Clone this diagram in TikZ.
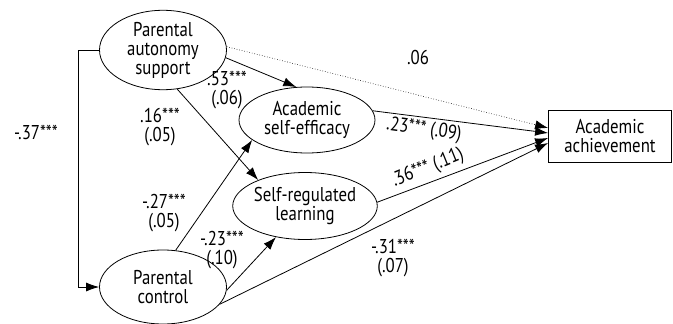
\documentclass[tikz,border=0pt]{standalone}
\usepackage{fontspec}
\setmainfont{PT Sans}[FakeStretch = 0.84]
\usetikzlibrary{shapes.geometric, arrows.meta}
\tikzset {
    latent/.style = {ellipse, draw, align = center, inner sep = 0pt, line width = 0.8pt},
    observed/.style = {rectangle, draw, align = center, inner sep = 2pt, line width = 0.8pt},
    path arrow/.style = {line width = 0.8pt, -{Latex[length = 13pt, width = 9pt]}},
    weak path/.style = {line width = 0.6pt, dotted, -{Latex[length = 13pt, width = 9pt]}},
    coef/.style = {align = center, inner sep = 0pt}
}
\newcommand{\stars}{***}

\begin{document}
\begin{tikzpicture}[x = 1pt, y = -1pt, font = \fontsize{20pt}{19pt}\selectfont]
    \useasboundingbox (0, 0) rectangle (673, 324);
    % variables
    \node (pas) [latent, minimum width = 127pt, minimum height = 78pt] at (163, 50) {Parental\\autonomy\\support};
    \node (ase) [latent, minimum width = 136pt, minimum height = 66pt] at (307, 120) {Academic\\self-efficacy};
    \node (srl) [latent, minimum width = 140pt, minimum height = 67pt] at (305, 206) {Self-regulated\\learning};
    \node (pc) [latent, minimum width = 127pt, minimum height = 74pt] at (163, 287) {Parental\\control};
    \node (aa) [observed, minimum width = 123pt, minimum height = 52pt] at (610, 136) {Academic\\achievement};
    % paths
    \draw [path arrow] (pas.west) -- ++(-21, 0) |- (pc.west);
    \draw [path arrow] (pas.-7) -- (ase.108);
    \draw [path arrow] (pas.-70) -- (srl.151);
    \draw [path arrow] (pc.71) -- (ase.-160);
    \draw [path arrow] (pc.-3) -- (srl.-133);
    \draw [path arrow] (pc.-17) -- ([yshift = -7pt]aa.west);
    \draw [path arrow] (ase.8) -- ([yshift = 3pt]aa.west);
    \draw [path arrow] (srl.3) -- ([yshift = -2pt]aa.west);
    \draw [weak path] (pas.3) -- ([yshift = 8pt]aa.west);
    % coefficients
    \node (c1) [coef] at (36, 132) {-.37\stars};
    \node (c2) [coef] at (418, 57) {.06};
    \node (c3) [coef] at (227, 90) {.53\stars\\(.06)};
    \node (c4) [coef] at (160, 127) {.16\stars\\(.05)};
    \node (c5) [coef] at (164, 213) {-.27\stars\\(.05)};
    \node (c6) [coef] at (222, 250) {-.23\stars\\(.10)};
    \node (c7) [coef] at (393, 258) {-.31\stars\\(.07)};
    \node (c8) [coef, rotate = -8] at (424, 130) {.23\stars{} (.09)};
    \node (c9) [coef, rotate = 22] at (428, 168) {.36\stars{} (.11)};
\end{tikzpicture}
\end{document}
